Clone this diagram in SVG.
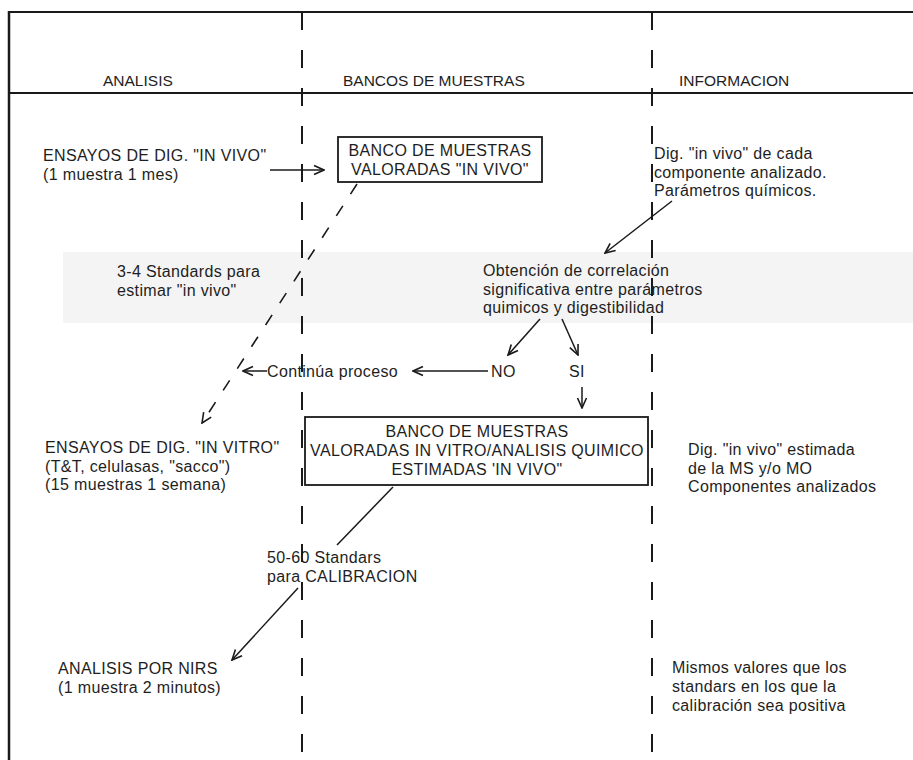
<svg xmlns="http://www.w3.org/2000/svg" width="913" height="760" viewBox="0 0 913 760">
<defs>
<marker id="ah" viewBox="0 0 12 12" refX="11" refY="6" markerWidth="12" markerHeight="12" markerUnits="userSpaceOnUse" orient="auto">
<path d="M1,1.5 L11,6 L1,10.5" fill="none" stroke="#1a1a1a" stroke-width="1.6"/>
</marker>
<style>
text{font-family:"Liberation Sans",Arial,sans-serif;fill:#1e1e1e}
.h{font-size:15.5px}
.b{font-size:16px;letter-spacing:0.35px}
.c{text-anchor:middle}
.frame{stroke:#1a1a1a;fill:none}
.div{stroke:#1a1a1a;stroke-width:2;stroke-dasharray:18 20;fill:none}
.box{fill:#fff;stroke:#1a1a1a;stroke-width:1.8}
.arr{stroke:#1a1a1a;stroke-width:1.5;fill:none;marker-end:url(#ah)}
.dash{stroke:#1a1a1a;stroke-width:1.6;fill:none;stroke-dasharray:12 14;marker-end:url(#ah)}
.seg{stroke:#1a1a1a;stroke-width:1.5;fill:none}
</style>
</defs>
<rect width="913" height="760" fill="#fff"/>
<rect x="63" y="252" width="850" height="71" fill="#f4f4f4"/>
<g id="frame">
<line class="frame" x1="8" y1="12" x2="913" y2="12" stroke-width="2"/>
<line class="frame" x1="8" y1="93" x2="913" y2="93" stroke-width="2"/>
<line class="frame" x1="9" y1="11" x2="9" y2="760" stroke-width="2.5"/>
<line class="div" x1="302" y1="12" x2="302" y2="760"/>
<line class="div" x1="652" y1="12" x2="652" y2="760"/>
</g>
<g id="headers">
<text class="h" x="103" y="86">ANALISIS</text>
<text class="h" x="343" y="86">BANCOS DE MUESTRAS</text>
<text class="h" x="679" y="86">INFORMACION</text>
</g>
<g id="ensayos-in-vivo">
<text class="b" x="43" y="161">ENSAYOS DE DIG. "IN VIVO"</text>
<text class="b" x="43" y="179.5">(1 muestra 1 mes)</text>
</g>
<g id="banco-in-vivo">
<rect class="box" x="338" y="137" width="204" height="45"/>
<text class="b c" x="440" y="156">BANCO DE MUESTRAS</text>
<text class="b c" x="440" y="175">VALORADAS "IN VIVO"</text>
</g>
<g id="info-in-vivo">
<text class="b" x="654" y="159">Dig. "in vivo" de cada</text>
<text class="b" x="654" y="177.5">componente analizado.</text>
<text class="b" x="654" y="196">Parámetros químicos.</text>
</g>
<g id="standards-label">
<text class="b" x="117" y="277">3-4 Standards para</text>
<text class="b" x="117" y="295.5">estimar "in vivo"</text>
</g>
<g id="correlacion">
<text class="b" x="483" y="276">Obtención de correlación</text>
<text class="b" x="483" y="294.5">significativa entre parámetros</text>
<text class="b" x="483" y="313">quimicos y digestibilidad</text>
</g>
<g id="no"><text class="b" x="491" y="377">NO</text></g>
<g id="si"><text class="b" x="569" y="377">SI</text></g>
<g id="continua"><text class="b" x="267" y="377">Continúa proceso</text></g>
<g id="ensayos-in-vitro">
<text class="b" x="45" y="453">ENSAYOS DE DIG. "IN VITRO"</text>
<text class="b" x="45" y="471.5">(T&amp;T, celulasas, "sacco")</text>
<text class="b" x="45" y="490">(15 muestras 1 semana)</text>
</g>
<g id="banco-in-vitro">
<rect class="box" x="305" y="417" width="343" height="68"/>
<text class="b c" x="477" y="437">BANCO DE MUESTRAS</text>
<text class="b c" x="477" y="456">VALORADAS IN VITRO/ANALISIS QUIMICO</text>
<text class="b c" x="477" y="475">ESTIMADAS 'IN VIVO"</text>
</g>
<g id="info-in-vitro">
<text class="b" x="688" y="455">Dig. "in vivo" estimada</text>
<text class="b" x="688" y="473.5">de la MS y/o MO</text>
<text class="b" x="688" y="492">Componentes analizados</text>
</g>
<g id="calibracion-label">
<text class="b" x="267" y="563">50-60 Standars</text>
<text class="b" x="267" y="582">para CALIBRACION</text>
</g>
<g id="nirs">
<text class="b" x="58" y="674">ANALISIS POR NIRS</text>
<text class="b" x="58" y="693">(1 muestra 2 minutos)</text>
</g>
<g id="info-nirs">
<text class="b" x="672" y="673">Mismos valores que los</text>
<text class="b" x="672" y="692">standars en los que la</text>
<text class="b" x="672" y="711">calibración sea positiva</text>
</g>
<g id="connectors">
<line class="arr" x1="270" y1="170" x2="324" y2="170"/>
<line class="dash" x1="357" y1="184" x2="202" y2="423"/>
<line class="arr" x1="672" y1="201" x2="605" y2="253"/>
<line class="arr" x1="540" y1="319" x2="508" y2="355"/>
<line class="arr" x1="562" y1="319" x2="578" y2="355"/>
<line class="arr" x1="488" y1="371" x2="413" y2="371"/>
<line class="arr" x1="267" y1="371" x2="243" y2="371"/>
<line class="arr" x1="582" y1="387" x2="582" y2="408"/>
<line class="seg" x1="393" y1="487" x2="337" y2="545"/>
<line class="arr" x1="298" y1="588" x2="232" y2="660"/>
</g>
</svg>
